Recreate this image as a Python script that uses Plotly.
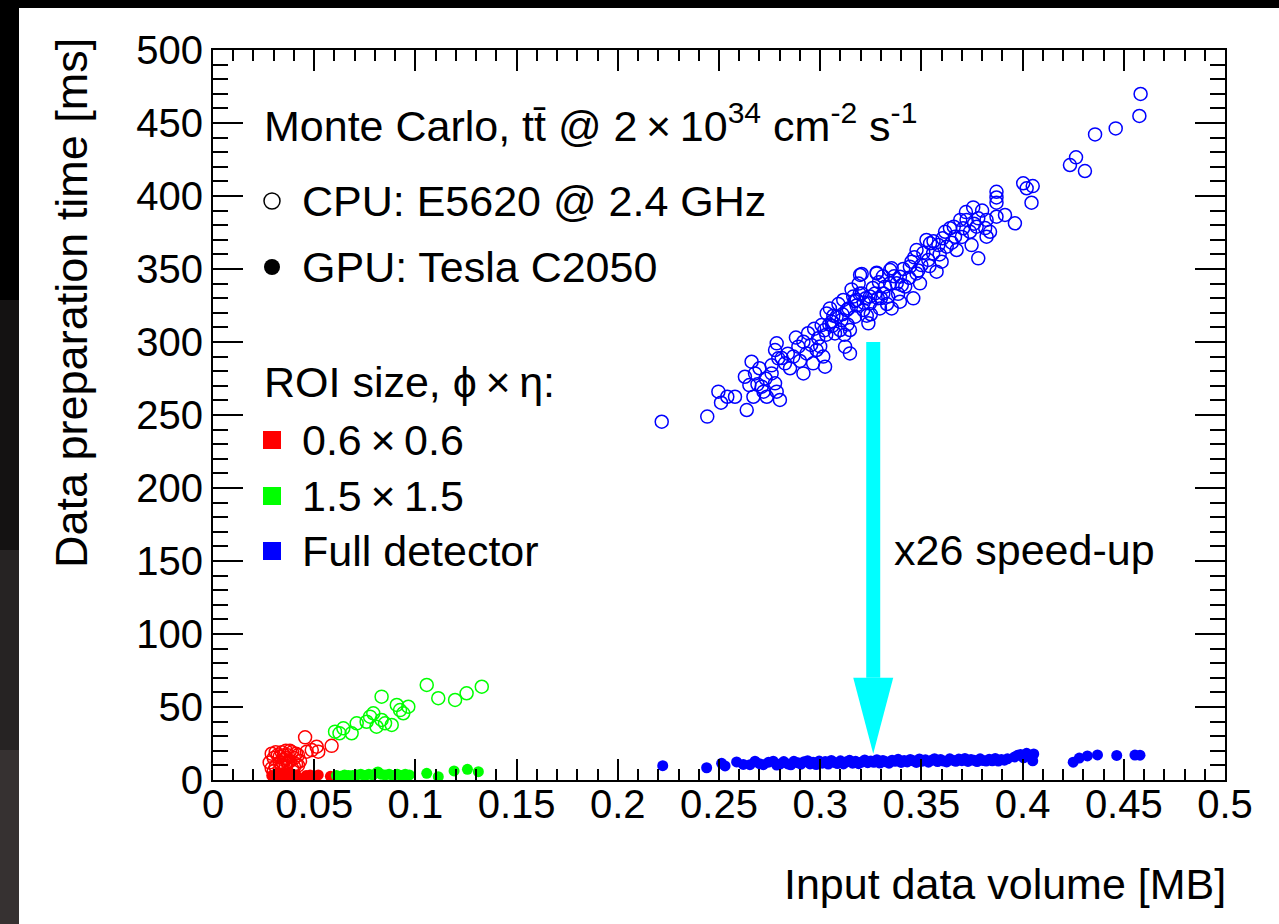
import plotly.graph_objects as go

# ---------------- data ----------------
# ROI 0.6 x 0.6 -- CPU (open) / GPU (filled)
roi06_cpu_x = [0.028, 0.030, 0.031, 0.032, 0.033, 0.034, 0.035, 0.036, 0.037, 0.038, 0.039, 0.040,
               0.041, 0.042, 0.036, 0.033, 0.039, 0.043, 0.029, 0.0455, 0.0463, 0.0488, 0.0512, 0.0520, 0.0586,
               0.029, 0.031, 0.034, 0.035, 0.037, 0.038, 0.040, 0.041, 0.030, 0.036, 0.042, 0.033]
roi06_cpu_y = [12, 15, 9, 17, 12, 19, 14, 10, 17, 13, 19, 15,
               11, 17, 20, 7, 8, 13, 18, 29.2, 19.4, 20.5, 22.8, 19.4, 23.4,
               8, 19, 10, 17, 12, 20, 9, 18, 6, 15, 10, 16]
roi06_gpu_x = [0.029, 0.031, 0.033, 0.034, 0.035, 0.037, 0.038, 0.040, 0.041, 0.042, 0.046, 0.048,
               0.050, 0.052, 0.058, 0.032, 0.036, 0.030, 0.039]
roi06_gpu_y = [3, 2, 4, 1.5, 3, 2, 4, 2.5, 3.5, 1.5, 3, 3.5,
               2.5, 3.5, 2.5, 5, 5, 1.2, 1.0]

# ROI 1.5 x 1.5
roi15_cpu_x = [0.0603, 0.0644, 0.0625, 0.0685, 0.0710, 0.0759, 0.0776, 0.0792, 0.0833, 0.0808, 0.0833,
               0.0850, 0.0883, 0.0908, 0.0924, 0.0940, 0.0965, 0.1056, 0.1113, 0.1196, 0.1253, 0.1328]
roi15_cpu_y = [33.1, 35.4, 32.0, 32.0, 38.8, 39.9, 43.4, 45.7, 57.1, 36.5, 41.1,
               38.8, 37.7, 51.4, 47.9, 45.7, 50.2, 65.1, 56.0, 54.8, 59.4, 63.9]
roi15_gpu_x = [0.061, 0.063, 0.065, 0.067, 0.069, 0.071, 0.073, 0.075, 0.077, 0.079, 0.081, 0.083,
               0.085, 0.087, 0.089, 0.091, 0.093, 0.095, 0.097, 0.0815, 0.094,
               0.1056, 0.1113, 0.1191, 0.1257, 0.1311]
roi15_gpu_y = [3, 2.5, 3.5, 3, 3, 3.5, 4, 3, 4, 3.5, 5, 4,
               3.5, 4, 3, 4, 3, 4, 3.5, 5.5, 2,
               4.6, 2.3, 6.2, 7.3, 5.7]

# Full detector
full_cpu_x = [0.2217, 0.2442, 0.2497, 0.2510, 0.2541, 0.2579, 0.2637, 0.2628, 0.2661, 0.2650, 0.2678,
              0.2670, 0.2711, 0.2736, 0.2760, 0.2777, 0.2785, 0.2801, 0.2785, 0.2777, 0.2793, 0.2826,
              0.2851, 0.2867, 0.2892, 0.2917, 0.2917, 0.2933, 0.2965, 0.2982, 0.2990, 0.3007, 0.3015,
              0.3024, 0.3032, 0.3048, 0.3057, 0.3073, 0.3081, 0.3098, 0.3114, 0.3131, 0.3123, 0.3147,
              0.3147, 0.3163, 0.3172, 0.3197, 0.3205, 0.3213, 0.3238, 0.3246, 0.3279, 0.3271, 0.3295,
              0.3320, 0.3345, 0.3336, 0.3353, 0.3378,
              0.4583, 0.4577, 0.4460, 0.4358, 0.4234, 0.4264, 0.4308, 0.4003, 0.4050, 0.4020, 0.4044,
              0.3871, 0.3871, 0.3871, 0.3913, 0.3962, 0.3871, 0.3822, 0.3756, 0.3773, 0.3723, 0.3706,
              0.3748, 0.3781, 0.3822, 0.3839, 0.3666, 0.3641, 0.3617, 0.3674, 0.3625, 0.3584, 0.3525,
              0.3534, 0.3558, 0.3600, 0.3476, 0.3500, 0.3451, 0.3476, 0.3575, 0.3443, 0.3353, 0.3279,
              0.3205, 0.3394, 0.3403, 0.3460, 0.3493, 0.3394, 0.3312, 0.3246, 0.3180, 0.3345, 0.3543,
              0.3692, 0.3781, 0.3740,
              0.3065, 0.3090, 0.3105, 0.3140, 0.3155, 0.3180, 0.3190, 0.3225, 0.3230, 0.3260, 0.3290,
              0.3300, 0.3310, 0.3330, 0.3365, 0.3385, 0.3410, 0.3420, 0.3440, 0.3465, 0.3485, 0.3510,
              0.3540, 0.3560, 0.3590, 0.3605, 0.3650, 0.3660, 0.3700, 0.3720, 0.3760, 0.3800, 0.3815,
              0.2940, 0.2955, 0.2970, 0.3000, 0.3030, 0.3045, 0.2880, 0.2900, 0.2840, 0.2810, 0.2760,
              0.2730, 0.2700, 0.2720, 0.2690,
              0.3020, 0.3060, 0.3110, 0.3135, 0.3170, 0.3215, 0.3250, 0.3285, 0.3195, 0.3120]
full_cpu_y = [245.4, 248.9, 266.0, 258.4, 262.5, 262.5, 253.4, 276.2, 286.5, 270.5, 278.5,
              262.5, 269.4, 262.5, 278.5, 271.7, 266.0, 260.3, 299.1, 294.5, 288.8, 285.4,
              282.0, 290.0, 296.8, 300.2, 278.5, 292.2, 285.4, 294.5, 302.5, 311.6, 290.0,
              283.1, 319.6, 323.0, 313.9, 305.9, 317.3, 308.2, 328.8, 321.9, 296.8, 292.2,
              308.2, 331.1, 317.3, 345.9, 333.3, 321.9, 312.8, 326.5, 347.0, 333.3, 323.0,
              337.9, 349.3, 331.1, 323.0, 340.2,
              469.9, 454.8, 446.3, 442.2, 421.2, 426.5, 417.1, 408.7, 406.8, 405.3, 395.4,
              402.9, 399.0, 395.4, 387.0, 381.3, 385.8, 383.6, 392.2, 379.0, 383.6, 377.9,
              366.4, 357.3, 372.1, 375.5, 372.1, 377.9, 375.5, 363.0, 365.3, 366.4, 369.9,
              356.2, 360.7, 355.0, 363.0, 352.7, 355.0, 347.0, 348.2, 351.6, 350.5, 347.5,
              346.6, 344.7, 339.0, 329.9, 340.2, 327.6, 333.3, 331.1, 328.8, 340.2, 367.6,
              383.6, 384.7, 375.5,
              318, 326, 315, 323, 336, 325, 340, 330, 318, 337, 341,
              330, 345, 326, 345, 333, 350, 338, 344, 358, 349, 361,
              352, 369, 360, 371, 368, 379, 372, 389, 381, 390, 378,
              306, 298, 309, 297, 305, 312, 303, 287, 292, 289, 284,
              275, 282, 266, 271,
              308, 311, 319, 312, 328, 327, 319, 330, 333, 305]

full_gpu_x = [0.2222, 0.2439, 0.2513, 0.2530, 0.2587, 0.2620, 0.2653, 0.2678, 0.2700, 0.2719, 0.2745,
              0.2768, 0.2785, 0.2801, 0.2820, 0.2840, 0.2855, 0.2870, 0.2890, 0.2905, 0.2920, 0.2938,
              0.2950, 0.2965, 0.2980, 0.2995, 0.3010, 0.3025, 0.3040, 0.3055, 0.3070, 0.3085, 0.3100,
              0.3115, 0.3130, 0.3145, 0.3160, 0.3175, 0.3190, 0.3205, 0.3220, 0.3235, 0.3250, 0.3265,
              0.3280, 0.3295, 0.3310, 0.3325, 0.3340, 0.3355, 0.3370, 0.3385, 0.3400, 0.3415, 0.3430,
              0.3445, 0.3460, 0.3475, 0.3490, 0.3505, 0.3520, 0.3535, 0.3550, 0.3565, 0.3580, 0.3595,
              0.3610, 0.3625, 0.3640, 0.3655, 0.3670, 0.3685, 0.3700, 0.3715, 0.3730, 0.3745, 0.3760,
              0.3775, 0.3790, 0.3805, 0.3820, 0.3835, 0.3850, 0.3865, 0.3880, 0.3895, 0.3910, 0.3925,
              0.3960, 0.3975, 0.3990, 0.4005, 0.4020, 0.4035, 0.4050, 0.4055,
              0.4250, 0.4280, 0.4320, 0.4370, 0.4465, 0.4555, 0.4580]
full_gpu_y = [9.8, 8.4, 11.4, 9.6, 12.4, 10.7, 10.5, 12.9, 11.2, 10.5, 12.2,
              12.9, 10.2, 10.9, 12.6, 11.0, 10.4, 12.8, 11.8, 10.8, 12.5, 13.2,
              11.0, 12.2, 10.6, 13.0, 11.5, 12.6, 10.9, 13.4, 12.0, 11.3, 13.1,
              11.0, 12.5, 13.5, 11.5, 12.8, 11.2, 12.3, 13.7, 11.9, 13.0, 12.1,
              13.9, 11.6, 13.4, 12.5, 11.5, 13.6, 12.8, 14.2, 12.0, 13.3, 12.4,
              14.1, 13.1, 12.0, 14.4, 12.9, 13.8, 12.2, 13.5, 14.6, 12.6, 14.0,
              13.0, 12.4, 14.5, 13.6, 12.8, 14.3, 13.2, 14.8, 12.7, 14.0, 13.5,
              12.6, 14.5, 13.3, 13.0, 14.2, 13.1, 14.8, 13.0, 14.0, 13.6, 14.5,
              15.8, 16.9, 17.5, 15.2, 18.3, 16.4, 13.1, 17.8,
              12.2, 15.0, 16.5, 17.2, 16.8, 17.1, 17.0]

# axis ticks
x_tickvals = [0, 0.05, 0.1, 0.15, 0.2, 0.25, 0.3, 0.35, 0.4, 0.45, 0.5]
x_ticktext = ["0", "0.05", "0.1", "0.15", "0.2", "0.25", "0.3", "0.35", "0.4", "0.45", "0.5"]
y_tickvals = [0, 50, 100, 150, 200, 250, 300, 350, 400, 450, 500]
y_ticktext = ["0", "50", "100", "150", "200", "250", "300", "350", "400", "450", "500"]

# speed-up arrow (data coordinates)
arrow_x = 0.3262
arrow_y_start = 300
arrow_head_base = 70
arrow_y_tip = 18

# ---------------- layout geometry ----------------
W, H = 1279, 924
L, R, T, B = 213, 54, 50, 144
PW, PH = W - L - R, H - T - B
FONT = "Liberation Sans, Arial, Helvetica, sans-serif"

def px(xp):
    return (xp - L) / PW

def py(yp):
    return (H - B - yp) / PH

RED, GREEN, BLUE, CYAN = "#ff0000", "#00ff00", "#0000ff", "#00ffff"

fig = go.Figure()

def add(x, y, color, filled):
    if filled:
        m = dict(symbol="circle", size=11, color=color, line=dict(width=0))
    else:
        m = dict(symbol="circle-open", size=13, color=color, line=dict(width=1.5, color=color))
    fig.add_trace(go.Scatter(x=x, y=y, mode="markers", marker=m, showlegend=False, hoverinfo="skip"))

add(roi06_cpu_x, roi06_cpu_y, RED, False)
add(roi15_cpu_x, roi15_cpu_y, GREEN, False)
add(full_cpu_x, full_cpu_y, BLUE, False)
add(roi06_gpu_x, roi06_gpu_y, RED, True)
add(roi15_gpu_x, roi15_gpu_y, GREEN, True)
add(full_gpu_x, full_gpu_y, BLUE, True)

shapes = []
# dark page border (top and left)
shapes.append(dict(type="rect", xref="paper", yref="paper", x0=px(-5), x1=px(W + 5), y0=py(8), y1=py(-5),
                   fillcolor="#000000", line=dict(width=0), layer="above"))
for (ya, yb, c) in [(-5, 300, "#000000"), (300, 550, "#141212"), (550, 750, "#262323"), (750, 930, "#363131")]:
    shapes.append(dict(type="rect", xref="paper", yref="paper", x0=px(-5), x1=px(19), y0=py(yb), y1=py(ya),
                       fillcolor=c, line=dict(width=0), layer="above"))

# arrow
shapes.append(dict(type="rect", xref="x", yref="y", xsizemode="pixel", xanchor=arrow_x, x0=-7, x1=7,
                   y0=arrow_head_base, y1=arrow_y_start, fillcolor=CYAN, line=dict(width=0), layer="above"))
shapes.append(dict(type="path", xref="x", yref="y", xsizemode="pixel", xanchor=arrow_x,
                   path=f"M -20,{arrow_head_base} L 20,{arrow_head_base} L 0,{arrow_y_tip} Z",
                   fillcolor=CYAN, line=dict(width=0), layer="above"))

# legend markers
def marker_shape(xp, yp, kind, color, r=9):
    base = dict(xref="paper", yref="paper", xsizemode="pixel", ysizemode="pixel",
                xanchor=px(xp), yanchor=py(yp), x0=-r, x1=r, y0=-r, y1=r, layer="above")
    if kind == "open":
        base.update(type="circle", fillcolor="rgba(0,0,0,0)", line=dict(color=color, width=1.5))
    elif kind == "dot":
        base.update(type="circle", fillcolor=color, line=dict(width=0))
    else:
        base.update(type="rect", fillcolor=color, line=dict(width=0))
    return base

shapes.append(marker_shape(272, 201, "open", "#000000", 8))
shapes.append(marker_shape(272, 267, "dot", "#000000", 8))
shapes.append(marker_shape(272, 440, "sq", RED, 9))
shapes.append(marker_shape(272, 496, "sq", GREEN, 9))
shapes.append(marker_shape(272, 551, "sq", BLUE, 9))

TS = 43
ann = []
def text(xp, yp, s, size=TS, xanchor="left", yanchor="middle", angle=0):
    ann.append(dict(xref="paper", yref="paper", x=px(xp), y=py(yp), text=s, showarrow=False,
                    xanchor=xanchor, yanchor=yanchor, textangle=angle,
                    font=dict(family=FONT, size=size, color="#000000")))

text(262, 123, "Monte Carlo, tt\u0304 @ 2\u2009\u00d7\u200910<sup>34</sup> cm<sup>-2</sup> s<sup>-1</sup>")
text(300, 201, "CPU: E5620 @ 2.4 GHz")
text(300, 267, "GPU: Tesla C2050")
text(262, 382, "ROI size, \u03d5\u2009\u00d7\u2009\u03b7:")
text(300, 440, "0.6\u2009\u00d7\u20090.6")
text(300, 496, "1.5\u2009\u00d7\u20091.5")
text(300, 551, "Full detector")
text(892, 550, "x26 speed-up")
# axis titles
text(1228, 884, "Input data volume [MB]", xanchor="right")
text(71, 36, "Data preparation time [ms]", size=45, xanchor="center", yanchor="top", angle=-90)

axis_common = dict(showgrid=False, zeroline=False, showline=True, linecolor="#000000", linewidth=2,
                   mirror="ticks", ticks="inside", tickcolor="#000000", tickwidth=1.5,
                   tickmode="array", tickfont=dict(family=FONT, size=40, color="#000000"))

fig.update_layout(
    width=W, height=H, margin=dict(l=L, r=R, t=T, b=B, pad=0),
    paper_bgcolor="#ffffff", plot_bgcolor="#ffffff",
    showlegend=False,
    xaxis=dict(range=[0, 0.5], tickvals=x_tickvals, ticktext=x_ticktext, ticklen=21,
               ticklabelstandoff=-12,
               minor=dict(tickmode="linear", tick0=0, dtick=0.01, ticks="inside", ticklen=11,
                          tickcolor="#000000", tickwidth=1.5, showgrid=False),
               **axis_common),
    yaxis=dict(range=[0, 500], tickvals=y_tickvals, ticktext=y_ticktext, ticklen=30,
               minor=dict(tickmode="linear", tick0=0, dtick=10, ticks="inside", ticklen=15,
                          tickcolor="#000000", tickwidth=1.5, showgrid=False),
               **axis_common),
    shapes=shapes, annotations=ann,
)

fig.write_html("out.html")
